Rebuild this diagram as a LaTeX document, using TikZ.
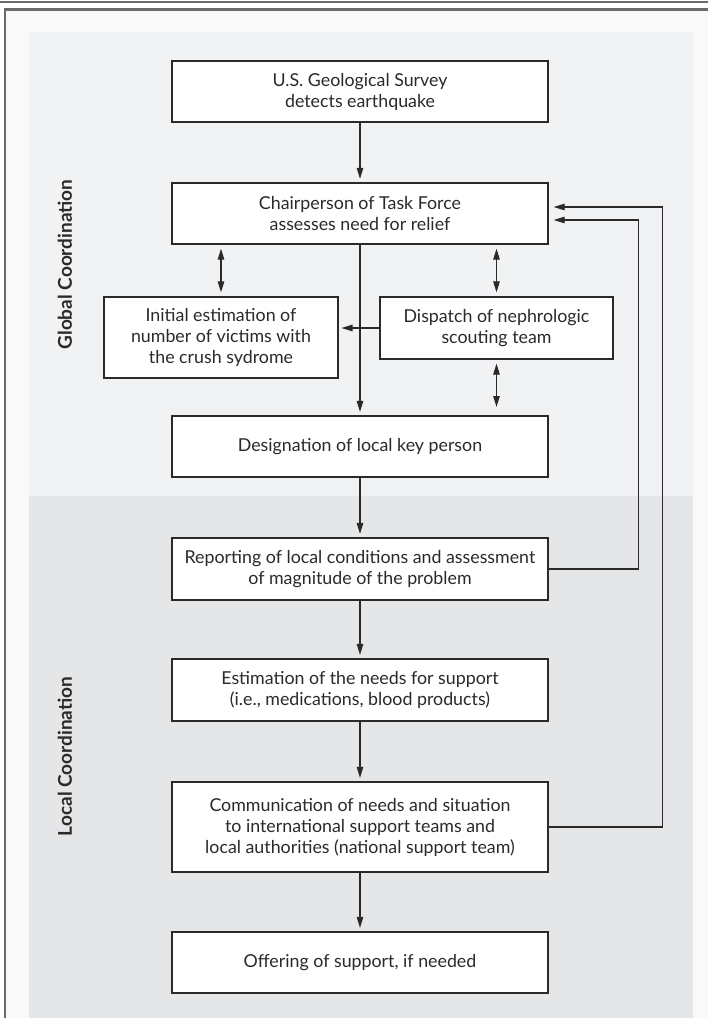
\documentclass[tikz,border=0pt]{standalone}
\usepackage{fontspec}
\setmainfont{Lato}
\usepackage{tikz}
\usetikzlibrary{arrows.meta,positioning}
\definecolor{outerbg}{HTML}{F9F9F9}
\definecolor{globalbg}{HTML}{F1F2F4}
\definecolor{localbg}{HTML}{E5E6E8}
\definecolor{framegray}{HTML}{6A6A6A}
\definecolor{inkgray}{HTML}{2A2A2A}

\begin{document}
\begin{tikzpicture}[x=1pt, y=-1pt,
    stepbox/.style={draw=inkgray, line width=1.3pt, fill=white, text=inkgray,
      align=center, minimum width=376pt, minimum height=61pt, inner sep=0pt,
      font=\fontsize{17.8}{21}\selectfont},
    sidebox/.style={stepbox, minimum width=234pt, minimum height=81pt},
    lane/.style={rotate=90, text=inkgray, font=\fontsize{19}{22}\selectfont\bfseries},
    arr/.style={draw=inkgray, line width=1.1pt, -{Triangle[length=11pt,width=6.5pt]}, shorten >=3.5pt},
    dblarr/.style={arr, {Triangle[length=11pt,width=6.5pt]}-{Triangle[length=11pt,width=6.5pt]}, shorten <=4pt, shorten >=4pt}]
  \useasboundingbox (0,0) rectangle (708,1018);
  \fill[white] (0,0) rectangle (708,1018);
  \fill[outerbg] (5,9.5) rectangle (708,1018);
  \fill[globalbg] (29,32) rectangle (693,496);
  \fill[localbg] (29,496) rectangle (693,1018);
  \draw[framegray, line width=2.2pt] (0,2) -- (708,2);
  \draw[framegray, line width=2.2pt] (708,9.5) -- (5.3,9.5) -- (5.3,1018);

  \node[lane] (global) at (65,264.5) {Global Coordination};
  \node[lane] (local) at (65,756.5) {Local Coordination};

  \node[stepbox] (usgs) at (360,91.5) {U.S. Geological Survey\\detects earthquake};
  \node[stepbox] (chair) at (360,213.5) {Chairperson of Task Force\\assesses need for relief};
  \node[sidebox] (initial) at (221,337.5) {Initial estimation of\\number of victims with\\the crush sydrome};
  \node[sidebox, minimum width=233pt, minimum height=62pt] (dispatch) at (496.5,328) {Dispatch of nephrologic\\scouting team};
  \node[stepbox] (keyperson) at (360,446.5) {Designation of local key person};
  \node[stepbox, minimum height=62pt] (report) at (360,569) {Reporting of local conditions and assessment\\of magnitude of the problem};
  \node[stepbox, minimum height=62pt] (needs) at (360,690) {Estimation of the needs for support\\(i.e., medications, blood products)};
  \node[stepbox, minimum height=90pt] (comm) at (360,827) {Communication of needs and situation\\to international support teams and\\local authorities (national support team)};
  \node[stepbox] (offer) at (360,962.5) {Offering of support, if needed};

  \coordinate (scoutend) at (496.5,411);
  \coordinate (crossend) at (338,328);

  \path[every edge/.style={arr}]
  (usgs) edge (chair)
  (chair) edge (keyperson)
  (dispatch.west) edge (crossend)
  (keyperson) edge (report)
  (report) edge (needs)
  (needs) edge (comm)
  (comm) edge (offer)
  ;
  \path[every edge/.style={dblarr}]
  (initial.north |- chair.south) edge (initial.north)
  (dispatch.north |- chair.south) edge (dispatch.north)
  (dispatch.south) edge (scoutend)
  ;
  \draw[arr, shorten >=5pt] (report.east) -| ([xshift=90pt,yshift=-6.5pt]chair.east) -- ([yshift=-6.5pt]chair.east);
  \draw[arr, shorten >=5pt] (comm.east) -| ([xshift=114pt,yshift=6.5pt]chair.east) -- ([yshift=6.5pt]chair.east);
\end{tikzpicture}
\end{document}
